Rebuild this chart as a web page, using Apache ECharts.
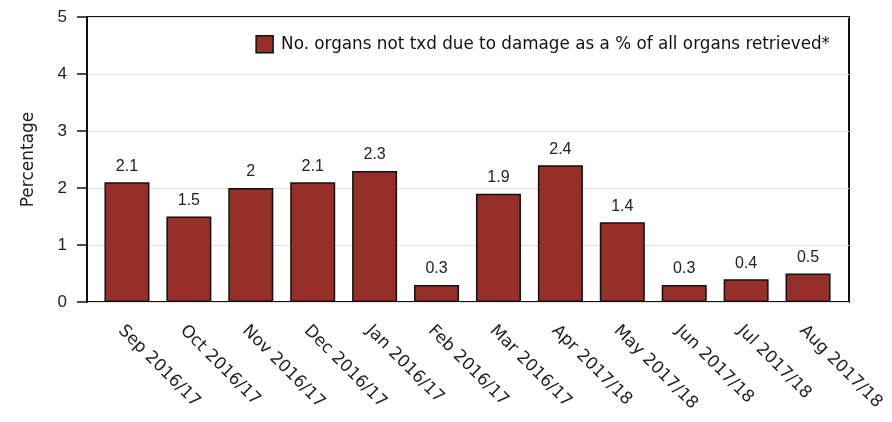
<!DOCTYPE html>
<html>
<head>
<meta charset="utf-8">
<script src="https://cdn.jsdelivr.net/npm/echarts@6/dist/echarts.min.js"></script>
<style>
  html, body { margin: 0; padding: 0; background: #fff; }
  #chart { width: 892px; height: 422px; }
</style>
</head>
<body>
<div id="chart"></div>
<script>
var months = ['Sep 2016/17', 'Oct 2016/17', 'Nov 2016/17', 'Dec 2016/17', 'Jan 2016/17', 'Feb 2016/17',
              'Mar 2016/17', 'Apr 2017/18', 'May 2017/18', 'Jun 2017/18', 'Jul 2017/18', 'Aug 2017/18'];
var damagedPct = [2.1, 1.5, 2, 2.1, 2.3, 0.3, 1.9, 2.4, 1.4, 0.3, 0.4, 0.5];
var yTicks = [0, 1, 2, 3, 4, 5];
var seriesName = 'No. organs not txd due to damage as a % of all organs retrieved*';

var myChart = echarts.init(document.getElementById('chart'));
option = {
    animation: false,
    textStyle: { fontFamily: 'DejaVu Sans' },
    legend: {
        right: 57,
        top: 30,
        itemWidth: 17,
        itemHeight: 17,
        itemGap: 10,
        icon: 'rect',
        itemStyle: { borderColor: '#111', borderWidth: 1.5 },
        textStyle: { fontSize: 16.8, color: '#111', fontFamily: 'DejaVu Sans', padding: [0, 0, 0, 3] },
        data: [seriesName]
    },
    grid: [
        // frame + value axis
        { left: 87, top: 17, width: 762, height: 285, show: true, borderColor: '#111', borderWidth: 2, backgroundColor: 'transparent' },
        // bars
        { left: 96, top: 17, width: 743, height: 285 }
    ],
    xAxis: [
        { type: 'value', gridIndex: 0, show: false, min: 0, max: 1 },
        {
            type: 'category', gridIndex: 1, data: months,
            axisLine: { show: false },
            axisTick: { alignWithLabel: true, length: 11, lineStyle: { color: '#111', width: 1.5 } },
            axisLabel: { rotate: -45, fontSize: 17, color: '#222', margin: 20, verticalAlign: 'top', fontFamily: 'DejaVu Sans' }
        }
    ],
    yAxis: [
        {
            type: 'value', gridIndex: 0, min: 0, max: 5, interval: 1,
            name: 'Percentage', nameLocation: 'middle', nameGap: 50,
            nameTextStyle: { fontSize: 17, color: '#222', fontFamily: 'DejaVu Sans' },
            axisLine: { show: true, lineStyle: { color: '#111', width: 2 } },
            axisTick: { show: true, length: 10, lineStyle: { color: '#111', width: 1.5 } },
            axisLabel: { fontSize: 17, color: '#222', margin: 20, fontFamily: 'Liberation Sans',
                formatter: function (v) { return yTicks.indexOf(v) >= 0 ? String(v) : ''; } },
            splitLine: { show: true, lineStyle: { color: '#e0e0e0', width: 1 } }
        },
        { type: 'value', gridIndex: 1, min: 0, max: 5, show: false }
    ],
    series: [
        {
            name: seriesName,
            type: 'bar',
            xAxisIndex: 1,
            yAxisIndex: 1,
            barWidth: 45,
            data: damagedPct,
            itemStyle: { color: '#952f28', borderColor: '#111', borderWidth: 1.5 },
            label: { show: true, position: 'top', distance: 8, fontSize: 16, color: '#222', fontFamily: 'Liberation Sans' }
        }
    ]
};
myChart.setOption(option);
</script>
</body>
</html>
